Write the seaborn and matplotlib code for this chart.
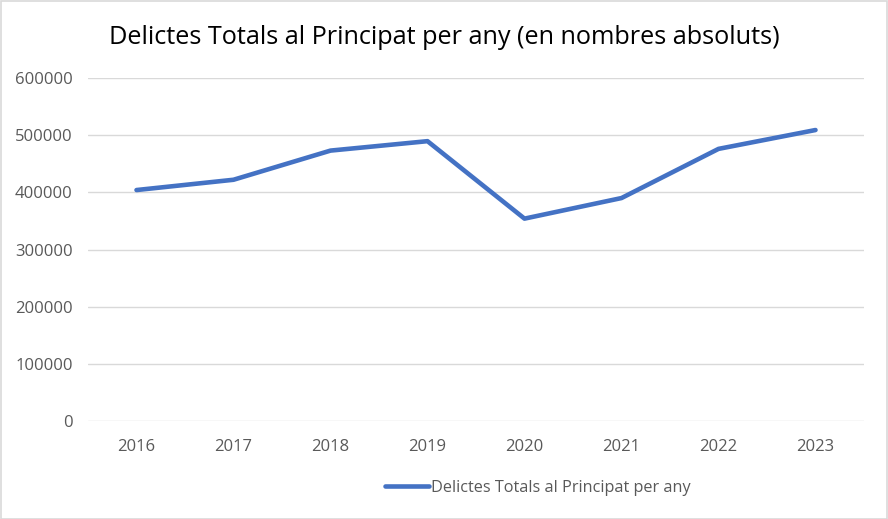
import matplotlib
matplotlib.use("Agg")
import matplotlib.pyplot as plt
import seaborn as sns
import pandas as pd
from matplotlib.patches import Rectangle

years = ["2016", "2017", "2018", "2019", "2020", "2021", "2022", "2023"]
delictes = [404000, 422000, 473000, 489500, 354000, 390000, 476000, 509000]
yticks = [0, 100000, 200000, 300000, 400000, 500000, 600000]
series_name = "Delictes Totals al Principat per any"
title = "Delictes Totals al Principat per any (en nombres absoluts)"

df = pd.DataFrame({"Any": years, "Valor": delictes, "Serie": series_name})

sns.set_theme(style="white")
plt.rcParams["font.family"] = ["Open Sans", "DejaVu Sans"]

W, H = 888, 519
fig = plt.figure(figsize=(W / 100, H / 100), dpi=100)
ax = fig.add_axes([88 / W, (H - 421) / H, (864 - 88) / W, (421 - 78) / H])

sns.lineplot(data=df, x="Any", y="Valor", hue="Serie", palette=["#4472C4"],
             linewidth=3.3, ax=ax, sort=False, legend=True,
             solid_capstyle="round")

ax.set_xlim(-0.5, len(years) - 0.5)
ax.set_ylim(0, 600000)
ax.set_yticks(yticks)
ax.set_yticklabels([str(v) for v in yticks])
ax.grid(axis="y", color="#D9D9D9", linewidth=1.0)
ax.grid(axis="x", visible=False)
ax.set_axisbelow(True)
for s in ax.spines.values():
    s.set_visible(False)
ax.tick_params(axis="both", length=0, colors="#595959", labelsize=12)
ax.tick_params(axis="y", pad=11)
ax.tick_params(axis="x", pad=13)
ax.set_xlabel("")
ax.set_ylabel("")

leg = ax.legend(loc="center", bbox_to_anchor=(538 / W, (H - 488) / H),
                bbox_transform=fig.transFigure, frameon=False,
                fontsize=11.7, handlelength=2.7, handletextpad=0.1)
for t in leg.get_texts():
    t.set_color("#595959")
for h in leg.get_lines():
    h.set_linewidth(3.3)

fig.text(444 / W, (H - 38) / H, title, ha="center", va="center",
         fontsize=18.2, color="#000000")

fig.patches.append(Rectangle((0.5 / W, 0.5 / H), 1 - 1.5 / W, 1 - 1.5 / H,
                             transform=fig.transFigure, fill=False,
                             edgecolor="#D9D9D9", linewidth=1.2))

fig.savefig("out.png", dpi=100)
